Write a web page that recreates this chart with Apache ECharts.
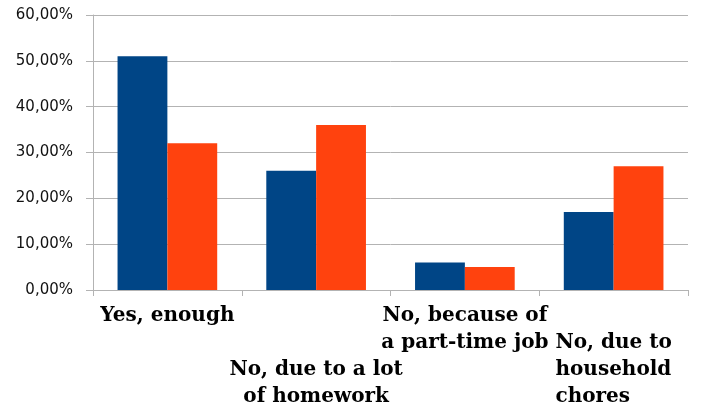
<!DOCTYPE html>
<html>
<head>
<meta charset="utf-8">
<script src="https://cdn.jsdelivr.net/npm/echarts@6/dist/echarts.min.js"></script>
<style>html,body{margin:0;padding:0;background:#fff}#c{width:701px;height:410px}</style>
</head>
<body>
<div id="c"></div>
<script>
const categories = ['Yes, enough', 'No, due to a lot\nof homework', 'No, because of\na part-time job', 'No, due to\nhousehold\nchores'];
const seriesA = [51, 26, 6, 17];
const seriesB = [32, 36, 5, 27];
const yTicks = [0, 10, 20, 30, 40, 50, 60];

const lineOffset = [0, 2, 0, 1];
const lineAlign = ['c', 'c', 'c', 'l'];

const chart = echarts.init(document.getElementById('c'), null, {renderer: 'canvas'});
chart.setOption({
  animation: false,
  backgroundColor: '#fff',
  grid: {left: 93, right: 13, top: 15, bottom: 119, containLabel: false},
  xAxis: {
    type: 'category',
    data: categories,
    axisLine: {lineStyle: {color: '#b3b3b3', width: 1}},
    axisTick: {show: true, length: 6, lineStyle: {color: '#b3b3b3'}},
    axisLabel: {
      interval: 0,
      margin: 12,
      color: '#000',
      fontFamily: 'DejaVu Serif',
      fontWeight: 'bold',
      fontSize: 20,
      lineHeight: 27,
      formatter: function (v, i) {
        const st = lineAlign[i];
        const lines = [];
        for (let k = 0; k < lineOffset[i]; k++) lines.push('{' + st + '| }');
        v.split('\n').forEach(function (s) { lines.push('{' + st + '|' + s + '}'); });
        return lines.join('\n');
      },
      rich: {
        c: {align: 'center', fontFamily: 'DejaVu Serif', fontWeight: 'bold', fontSize: 20, lineHeight: 27, color: '#000'},
        l: {align: 'left', fontFamily: 'DejaVu Serif', fontWeight: 'bold', fontSize: 20, lineHeight: 27, color: '#000'}
      }
    }
  },
  yAxis: {
    type: 'value',
    min: yTicks[0],
    max: yTicks[yTicks.length - 1],
    interval: 10,
    axisLine: {show: true, lineStyle: {color: '#b3b3b3', width: 1}},
    axisTick: {show: true, length: 7, lineStyle: {color: '#b3b3b3'}},
    splitLine: {show: true, lineStyle: {color: '#b3b3b3', width: 1}},
    axisLabel: {
      margin: 20,
      color: '#111',
      fontFamily: 'DejaVu Sans',
      fontSize: 15,
      formatter: function (v) { return v.toFixed(2).replace('.', ',') + '%'; }
    }
  },
  series: [
    {type: 'bar', data: seriesA, itemStyle: {color: '#004586'}, barGap: '0%', barCategoryGap: '33%'},
    {type: 'bar', data: seriesB, itemStyle: {color: '#ff420e'}, barGap: '0%', barCategoryGap: '33%'}
  ]
});
</script>
</body>
</html>
